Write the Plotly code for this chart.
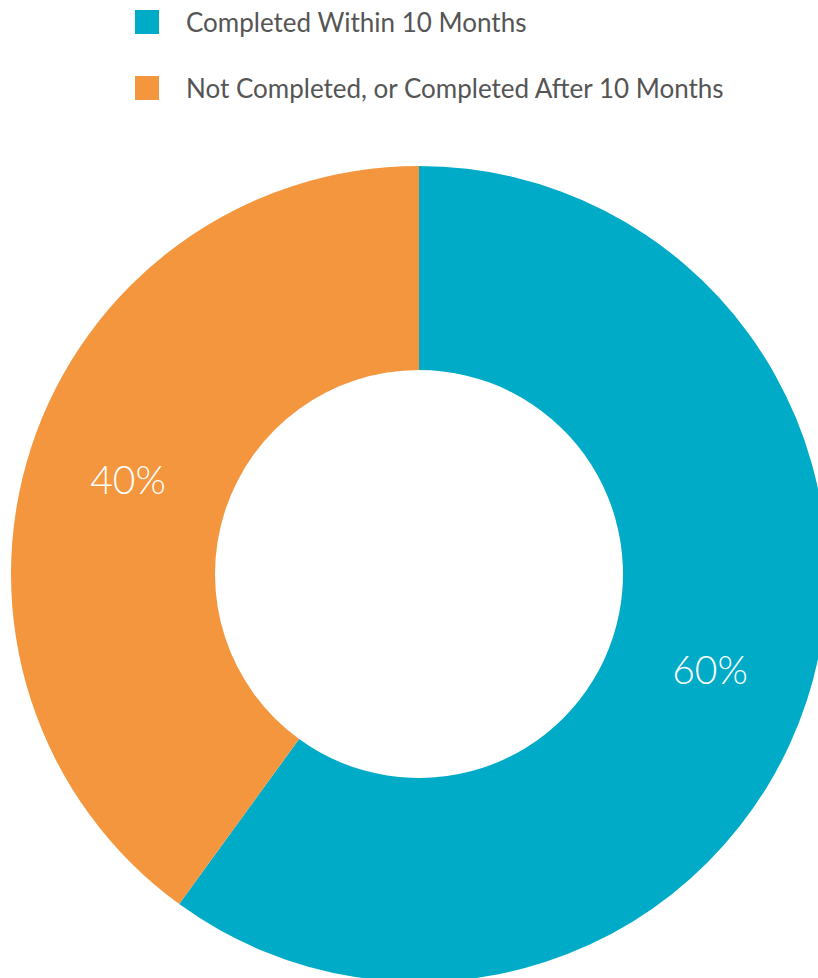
import plotly.graph_objs as go

# Data
labels = ["Completed Within 10 Months", "Not Completed, or Completed After 10 Months"]
values = [60, 40]
colors = ["#00ABC8", "#F4963E"]

W, H = 838, 990
FONT = "Lato"

fig = go.Figure()

fig.add_trace(go.Pie(
    labels=labels,
    values=values,
    hole=0.5,
    sort=False,
    direction="clockwise",
    rotation=0,
    marker=dict(colors=colors, line=dict(width=0)),
    textinfo="percent",
    textposition="inside",
    insidetextorientation="horizontal",
    textfont=dict(family=FONT, size=39, color="white", weight=300),
    showlegend=False,
    hoverinfo="label+percent",
    domain=dict(x=[11 / W, 827 / W], y=[(H - 982) / H, (H - 166) / H]),
))

# Legend drawn by hand so squares and spacing match
legend_y = [22, 88]
for lab, col, py in zip(labels, colors, legend_y):
    fig.add_shape(type="rect", xref="paper", yref="paper",
                  x0=135 / W, x1=159 / W,
                  y0=1 - (py + 12) / H, y1=1 - (py - 12) / H,
                  fillcolor=col, line=dict(width=0))
    fig.add_annotation(text=lab, xref="paper", yref="paper",
                       x=184 / W, y=1 - py / H, xanchor="left", yanchor="middle",
                       showarrow=False,
                       font=dict(family=FONT, size=26, color="#555555"))

fig.update_layout(
    width=W, height=H,
    margin=dict(l=0, r=0, t=0, b=0),
    paper_bgcolor="white",
    plot_bgcolor="white",
)

fig.write_html("out.html", config={"displayModeBar": False},
               post_script="document.body.style.margin='0';document.body.style.overflow='hidden';")
